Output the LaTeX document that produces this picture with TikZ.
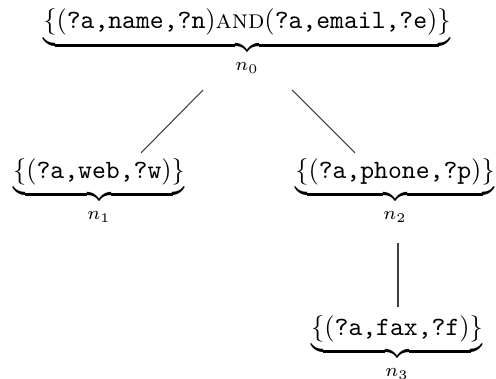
\documentclass[tikz,border=0pt]{standalone}
\begin{document}
\begin{tikzpicture}[x=0.3788pt,y=-0.3788pt,
  tp/.style={anchor=base,inner sep=0pt},
  conn/.style={line width=0.4pt,draw=black!75}]
\useasboundingbox (0,0) rectangle (496,378);
\node[tp] (n0) at (247,29) {$\underbrace{\{(\texttt{?a,name,?n})\textsc{and}(\texttt{?a,email,?e})\}}_{n_0}$};
\node[tp] (n1) at (99,178) {$\underbrace{\{(\texttt{?a,web,?w})\}}_{n_1}$};
\node[tp] (n2) at (395,178) {$\underbrace{\{(\texttt{?a,phone,?p})\}}_{n_2}$};
\node[tp] (n3) at (397,335) {$\underbrace{\{(\texttt{?a,fax,?f})\}}_{n_3}$};
\coordinate (a0) at (203,90);
\coordinate (a1) at (141,153);
\coordinate (b0) at (292,90);
\coordinate (b1) at (355,153);
\coordinate (c0) at (398,243);
\coordinate (c1) at (398,307);
\draw[conn] (a0) -- (a1);
\draw[conn] (b0) -- (b1);
\draw[conn] (c0) -- (c1);
\end{tikzpicture}
\end{document}
